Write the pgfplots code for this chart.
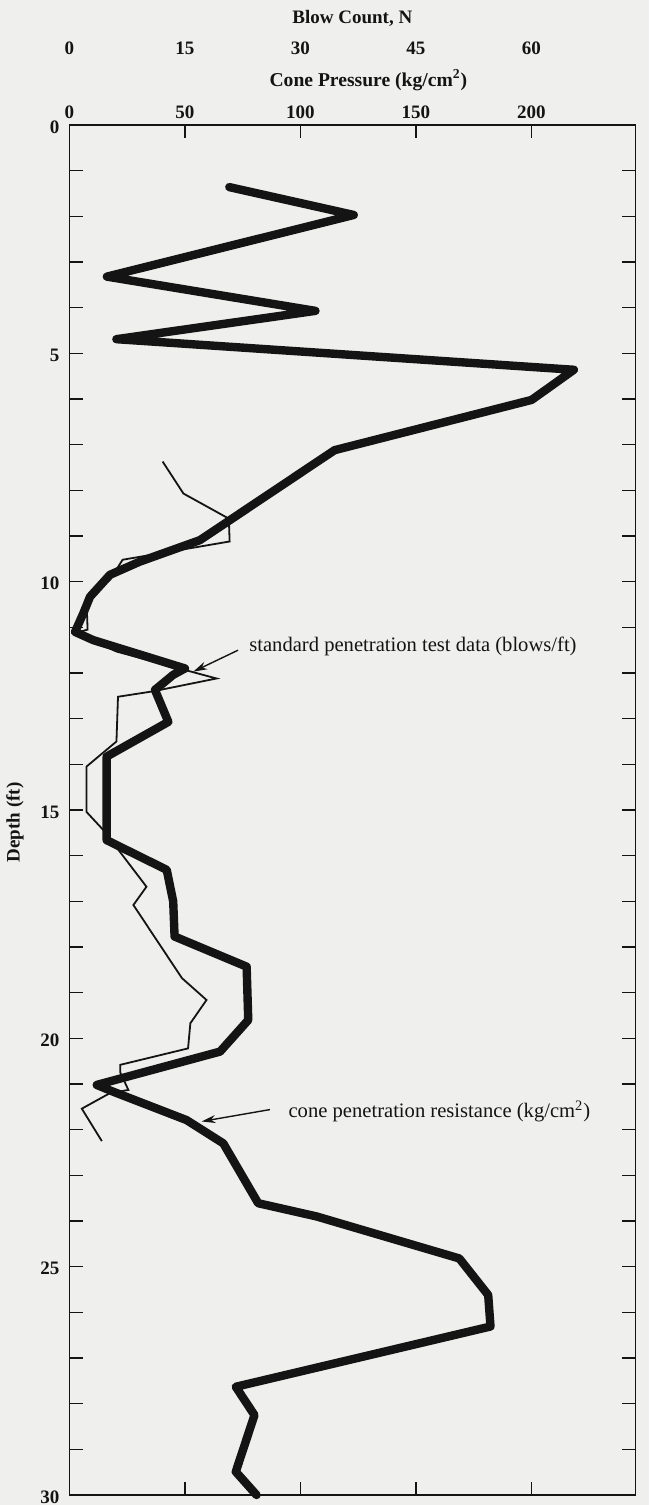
\documentclass[border=0pt]{standalone}
\usepackage{fontspec}
\setmainfont{Liberation Serif}
\usepackage{pgfplots}
\usepackage{pgfplotstable}
\pgfplotsset{compat=1.18}
\usetikzlibrary{arrows.meta}

\definecolor{paper}{RGB}{239,239,237}
\definecolor{ink}{RGB}{20,20,20}

% cone penetration resistance: cone pressure (kg/cm^2), depth (ft)
\pgfplotstableread{
q z
69.2 1.36
123.1 1.97
16.2 3.32
106.5 4.07
20.3 4.69
218.4 5.36
200.1 6.02
114.8 7.12
56.5 9.09
30.5 9.56
17.5 9.85
8.9 10.33
6.0 10.69
2.4 11.10
10.3 11.28
50.0 11.90
44.9 12.04
37.0 12.37
42.8 13.07
16.1 13.83
16.1 15.66
42.1 16.31
44.9 17.00
45.5 17.77
76.7 18.43
77.4 19.60
65.2 20.29
11.8 21.02
19.0 21.17
50.7 21.79
66.6 22.30
81.7 23.61
107.0 23.90
168.8 24.82
181.3 25.62
182.3 26.31
72.0 27.63
80.1 28.25
72.0 29.49
81.0 30.00
}\conedata

% standard penetration test: blow count N (blows/ft), depth (ft)
\pgfplotstableread{
N z
12.1 7.37
14.8 8.07
20.7 8.62
20.8 9.12
6.9 9.52
5.25 9.96
2.2 10.35
2.35 11.05
0.9 11.12
6.1 11.53
19.1 12.12
10.9 12.40
6.3 12.52
6.1 13.50
2.2 14.05
2.2 15.04
4.4 15.44
10.0 16.68
8.3 17.08
14.6 18.68
17.8 19.16
15.7 19.67
15.4 20.22
6.6 20.58
6.6 20.75
7.65 21.13
5.25 21.20
1.6 21.54
4.2 22.25
}\sptdata

\begin{document}
\begin{tikzpicture}[font=\fontsize{9.5}{11}\selectfont]
\path[use as bounding box, fill=paper] (-34.75pt,-5pt) rectangle (289.75pt,747.5pt);

% cone pressure axis (main frame)
\begin{axis}[
  scale only axis,
  width=282.9pt, height=685pt,
  xmin=0, xmax=245,
  ymin=0, ymax=30,
  y dir=reverse,
  axis line style={ink, line width=0.8pt},
  every tick/.style={ink, line width=0.7pt},
  tick align=inside,
  major tick length=6.5pt,
  minor tick length=6.5pt,
  xtick={0,50,100,150,200},
  xticklabel pos=upper,
  ytick={0,5,...,30},
  minor ytick={1,2,...,29},
  /pgf/number format/assume math mode=true,
  tick label style={font=\bfseries\fontsize{9.5}{11}\selectfont, text=ink},
  xticklabel style={anchor=center, yshift=6.5pt},
  yticklabel style={anchor=east, xshift=-1.5pt, yshift=-1pt},
  xlabel={Cone Pressure (kg/cm\textsuperscript{2})},
  xlabel style={at={(axis description cs:0.5,1)}, anchor=center, yshift=22.5pt, xshift=8pt,
    font=\bfseries\fontsize{9.8}{11}\selectfont, text=ink},
  ylabel={Depth (ft)},
  ylabel style={at={(axis description cs:-0.0963,0.491)}, anchor=center,
    font=\bfseries\fontsize{9.5}{11}\selectfont, text=ink},
  clip=false,
]
\addplot[ink, line width=4.2pt, line join=round, line cap=round] table[x=q, y=z] {\conedata};

\node[anchor=west, inner sep=0pt, text=ink, font=\fontsize{10.3}{12}\selectfont] at (axis cs:77.7,11.42)
  {standard penetration test data (blows/ft)};
\draw[ink, line width=0.7pt, -{Stealth[length=7pt, width=4pt]}] (axis cs:73,11.5) -- (axis cs:53.6,11.97);

\node[anchor=west, inner sep=0pt, text=ink, font=\fontsize{10.3}{12}\selectfont] at (axis cs:94.7,21.6)
  {cone penetration resistance (kg/cm\textsuperscript{2})};
\draw[ink, line width=0.7pt, -{Stealth[length=7pt, width=4pt]}] (axis cs:86.8,21.56) -- (axis cs:57.2,21.82);
\end{axis}

% blow count scale, sharing the same frame
\begin{axis}[
  scale only axis,
  width=282.9pt, height=685pt,
  xmin=0, xmax=73.5,
  ymin=0, ymax=30,
  y dir=reverse,
  axis y line=none,
  axis x line*=top,
  x axis line style={draw=none},
  major tick length=0pt,
  xtick={0,15,30,45,60},
  /pgf/number format/assume math mode=true,
  tick label style={font=\bfseries\fontsize{9.5}{11}\selectfont, text=ink},
  xticklabel style={anchor=center, yshift=38.5pt},
  xlabel={Blow Count, N},
  xlabel style={at={(axis description cs:0.5,1)}, anchor=center, yshift=53.5pt,
    font=\bfseries\fontsize{9.5}{11}\selectfont, text=ink},
]
\addplot[ink, line width=0.9pt, line join=miter] table[x=N, y=z] {\sptdata};
\end{axis}
\end{tikzpicture}
\end{document}
